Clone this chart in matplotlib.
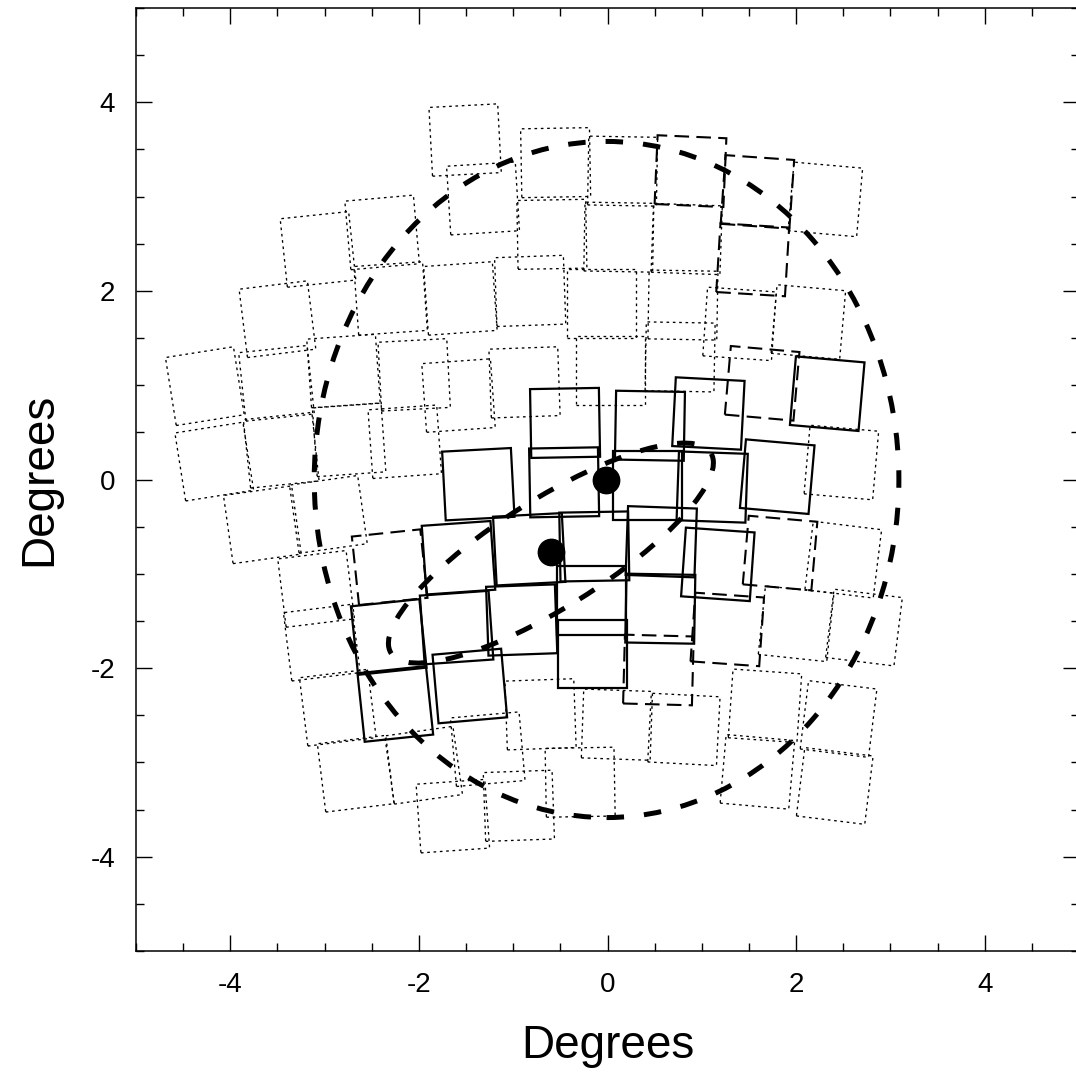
import matplotlib
matplotlib.use("Agg")
import matplotlib.pyplot as plt
from matplotlib.patches import Rectangle, Ellipse
from matplotlib.ticker import MultipleLocator

plt.rcParams['font.family'] = ['Liberation Sans', 'DejaVu Sans']
plt.rcParams['axes.unicode_minus'] = False

# field centres (degrees) and position angles (deg)
dotted_x = [-1.51, -0.55, 0.16, -1.32, 2.31, -0.59, 0.12, 0.84, -3.07, -2.39,
            -3.50, -2.30, -1.56, -0.82, -0.06, 0.80, 0.77, 1.40, 2.13, -0.88,
            0.03, -4.27, -3.51, -2.80, -2.05, -1.58, -4.17, -3.46, -2.74, -2.15,
            -3.66, -2.96, -3.09, -3.03, -2.86, -2.67, -1.95, -1.64, -1.27, -0.94,
            -0.71, -0.29, 0.10, 0.81, 1.67, 2.45, 1.59, 2.41, 2.48, 2.50,
            2.72, 2.00]
dotted_y = [3.60, 3.36, 3.27, 2.98, 2.97, 2.60, 2.57, 2.55, 2.44, 2.62,
            1.70, 1.92, 1.92, 2.00, 1.87, 1.85, 1.30, 1.65, 1.67, 1.03,
            1.16, 0.99, 1.02, 1.15, 1.11, 0.89, 0.19, 0.31, 0.42, 0.40,
            -0.48, -0.37, -1.16, -1.73, -2.42, -3.12, -3.03, -3.57, -2.86, -3.46,
            -2.49, -3.21, -2.60, -2.65, -2.40, -2.54, -3.10, -3.25, 0.18, -0.85,
            -1.57, -1.53]
dotted_ang = [3, 1, -1, 3.5, -5, 1, -1, -2, 6, 5,
              7, 4, 4, 2, 0, -1, -1, -4, -5, 2,
              0, 9, 6, 4, 3, 4, 9, 6, 4, 4,
              8, 8, 7, 7, 7, 7, 8, 4, 5, 2,
              2, 1, -2, -3, -4, -7, -5, -7, -5, -7,
              -7, -6]

solid_x = [-0.45, 0.45, 1.07, 1.80, 2.33, -1.37, -0.46, 0.42, 1.11, -1.58,
           -0.83, -0.14, 0.57, 1.17, -2.32, -1.60, -0.91, -0.17, 0.56, -2.25,
           -1.46, -0.16]
solid_y = [0.60, 0.57, 0.70, 0.03, 0.91, -0.05, -0.03, -0.06, -0.08, -0.83,
           -0.74, -0.71, -0.66, -0.90, -1.67, -1.57, -1.49, -1.28, -1.37, -2.38,
           -2.19, -1.85]
solid_ang = [1, -1, -3, -5, -5, 3, 1, 0, -2, 4,
             3, 1, -2, -4, 6, 4, 2, 0, -1, 6,
             5, 0]

dashed_x = [0.88, 1.59, 1.54, 1.64, 1.83, 1.27, 0.54, -2.31]
dashed_y = [3.27, 3.05, 2.33, 1.02, -0.78, -1.59, -2.02, -0.93]
dashed_ang = [-2.5, -4, -3.5, -5, -5, -4, -1.5, 6]

# pointing centres
dot_x = [-0.02, -0.60]
dot_y = [0.00, -0.77]

side = 0.73

fig = plt.figure(figsize=(10.76, 10.72), dpi=100)
ax = fig.add_axes([136 / 1076, 121 / 1072, 943 / 1076, 943 / 1072])


def add_fields(xs, ys, angs, **kw):
    for x, y, a in zip(xs, ys, angs):
        ax.add_patch(Rectangle((x - side / 2, y - side / 2), side, side,
                               angle=a, rotation_point='center',
                               fill=False, edgecolor='k', **kw))


add_fields(dotted_x, dotted_y, dotted_ang, lw=0.95, linestyle=(0, (2, 2.8)))
add_fields(dashed_x, dashed_y, dashed_ang, lw=1.5, linestyle=(0, (7, 3.5)))
add_fields(solid_x, solid_y, solid_ang, lw=1.6)

ax.add_patch(Ellipse((-0.01, 0.0), 6.2, 7.17, fill=False, edgecolor='k',
                     lw=3.6, linestyle=(0, (3.5, 4))))
ax.add_patch(Ellipse((-0.6, -0.78), 4.0, 1.15, angle=32, fill=False,
                     edgecolor='k', lw=3.6, linestyle=(0, (3.5, 4))))

ax.plot(dot_x, dot_y, 'o', color='k', ms=19)

ax.set_xlim(-5, 5)
ax.set_ylim(-5, 5)
ax.set_xticks([-4, -2, 0, 2, 4])
ax.set_yticks([-4, -2, 0, 2, 4])
ax.xaxis.set_minor_locator(MultipleLocator(0.5))
ax.yaxis.set_minor_locator(MultipleLocator(0.5))
ax.tick_params(which='both', direction='in', top=True, right=True, width=1,
               labelsize=20, pad=15)
ax.tick_params(which='major', length=11.5)
ax.tick_params(which='minor', length=5.8)
for sp in ax.spines.values():
    sp.set_linewidth(1.1)

ax.set_xlabel('Degrees', fontsize=33, labelpad=19)
ax.set_ylabel('Degrees', fontsize=33, labelpad=21)

fig.savefig('out.png', dpi=100)
